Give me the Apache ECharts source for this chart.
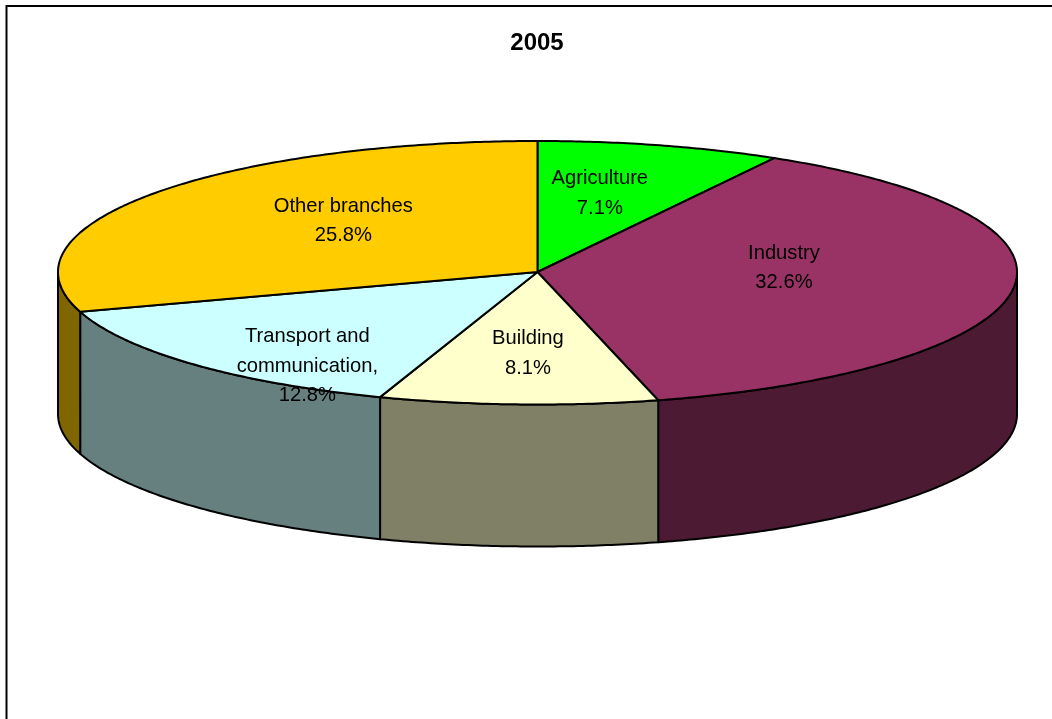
<!DOCTYPE html>
<html>
<head>
<meta charset="utf-8">
<title>2005</title>
<style>
  html, body { margin: 0; padding: 0; background: #fff; }
  #main { width: 1052px; height: 719px; }
</style>
<script src="https://cdn.jsdelivr.net/npm/echarts@6/dist/echarts.min.js"></script>
</head>
<body>
<div id="main"></div>
<script>
const names = ['Agriculture', 'Industry', 'Building', 'Transport and\ncommunication,', 'Other branches'];
const shares = [7.1, 32.6, 8.1, 12.8, 25.8];

const topColors = ['#00ff00', '#993366', '#ffffcc', '#ccffff', '#ffcc00'];
const sideColors = ['#008000', '#4d1a33', '#808066', '#668080', '#806600'];

// label centre relative to the pie centre, as a fraction of the two radii
const labelSpots = [[0.13, -0.60], [0.514, -0.03], [-0.02, 0.62], [-0.48, 0.72], [-0.405, -0.39]];

const CX = 537.5, CY = 272, RX = 479.5, RY_BACK = 131, RY_FRONT = 132.5, DEPTH = 142;
const total = shares.reduce((a, b) => a + b, 0);

// angle runs clockwise from 12 o'clock
function rimPoint(a, drop) {
  const c = Math.cos(a);
  return [CX + RX * Math.sin(a), CY - (c < 0 ? RY_FRONT : RY_BACK) * c + (drop || 0)];
}
function arcPoints(from, to, drop) {
  const steps = Math.max(2, Math.ceil(Math.abs(to - from) / 0.01));
  const pts = [];
  for (let i = 0; i <= steps; i++) pts.push(rimPoint(from + (to - from) * i / steps, drop));
  return pts;
}

const edge = { stroke: '#000', lineWidth: 2, lineJoin: 'round' };

function sliceAngles(i, value) {
  let sum = 0;
  for (let k = 0; k < i; k++) sum += shares[k];
  return [sum / total * Math.PI * 2, (sum + value) / total * Math.PI * 2];
}

function drawWall(params, api) {
  const i = params.dataIndex;
  const [from, to] = sliceAngles(i, api.value(0));
  const children = [];

  // only the part of the rim facing the viewer gets a wall
  const wallFrom = Math.max(from, Math.PI / 2);
  const wallTo = Math.min(to, Math.PI * 1.5);
  if (wallTo > wallFrom) {
    const pts = arcPoints(wallFrom, wallTo, 0).concat(arcPoints(wallTo, wallFrom, DEPTH));
    children.push({
      type: 'polygon',
      shape: { points: pts },
      style: Object.assign({ fill: sideColors[i] }, edge)
    });
  }
  return { type: 'group', children: children };
}

function drawTop(params, api) {
  const i = params.dataIndex;
  const [from, to] = sliceAngles(i, api.value(0));
  return {
    type: 'polygon',
    shape: { points: [[CX, CY]].concat(arcPoints(from, to, 0)) },
    style: Object.assign({ fill: topColors[i] }, edge)
  };
}

// labels go in their own series so no slice can paint over them
function drawLabel(params, api) {
  const i = params.dataIndex;
  const spot = labelSpots[i];
  return {
    type: 'text',
    style: {
      x: CX + RX * spot[0],
      y: CY + RY_BACK * spot[1],
      text: names[i] + '\n' + api.value(0).toFixed(1) + '%',
      fill: '#000',
      font: '20.2px "Liberation Sans", Arial, sans-serif',
      lineHeight: 29.5,
      align: 'center',
      verticalAlign: 'middle'
    }
  };
}

const chart = echarts.init(document.getElementById('main'), null, { renderer: 'canvas' });
chart.setOption({
  backgroundColor: '#fff',
  animation: false,
  title: {
    text: '2005',
    left: 532,
    top: 26,
    textAlign: 'center',
    textStyle: { fontFamily: '"Liberation Sans", Arial, sans-serif', fontSize: 24, fontWeight: 'bold', color: '#000' }
  },
  graphic: [{
    type: 'polyline',
    silent: true,
    shape: { points: [[6.5, 719], [6.5, 6], [1052, 6]] },
    style: { stroke: '#000', lineWidth: 2, fill: null }
  }],
  series: [
    { type: 'custom', coordinateSystem: 'none', renderItem: drawWall, data: shares.map(v => [v]), z: 2, silent: true },
    { type: 'custom', coordinateSystem: 'none', renderItem: drawTop, data: shares.map(v => [v]), z: 3, silent: true },
    { type: 'custom', coordinateSystem: 'none', renderItem: drawLabel, data: shares.map(v => [v]), z: 4, silent: true }
  ]
});
</script>
</body>
</html>
